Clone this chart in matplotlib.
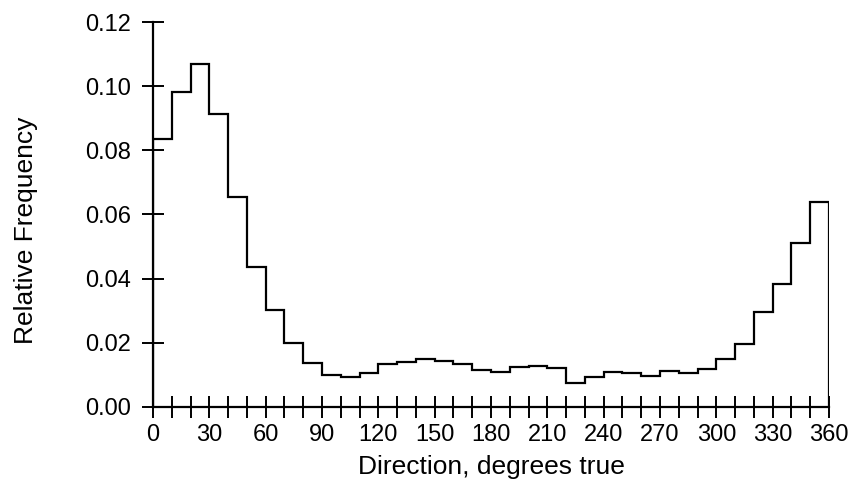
import numpy as np
import matplotlib.pyplot as plt

plt.rcParams['font.family'] = ['Liberation Sans', 'DejaVu Sans']

# 10-degree direction bins, 0..360
bin_edges = list(range(0, 370, 10))
rel_freq = [0.0835, 0.0983, 0.1069, 0.0913, 0.0655, 0.0435, 0.0302, 0.0200, 0.0136,
            0.0100, 0.0093, 0.0105, 0.0133, 0.0139, 0.0149, 0.0143, 0.0133, 0.0115,
            0.0108, 0.0124, 0.0128, 0.0121, 0.0076, 0.0094, 0.0109, 0.0107, 0.0098,
            0.0112, 0.0106, 0.0117, 0.0149, 0.0196, 0.0297, 0.0383, 0.0512, 0.0638]

x_labels = list(range(0, 390, 30))
y_labels = [0.00, 0.02, 0.04, 0.06, 0.08, 0.10, 0.12]

fig = plt.figure(figsize=(8.52, 4.87), dpi=100)
ax = fig.add_axes([0.1796, 0.1643, 0.7934, 0.7905])

ax.stairs(rel_freq, bin_edges, color='black', linewidth=1.6, baseline=0)

ax.set_xlim(0, 360)
ax.set_ylim(0, 0.12)
ax.set_xticks(x_labels)
ax.set_xticks(bin_edges, minor=True)
ax.set_yticks(y_labels)
ax.set_yticklabels([f'{v:.2f}' for v in y_labels])

for s in ['top', 'right']:
    ax.spines[s].set_visible(False)
for s in ['left', 'bottom']:
    ax.spines[s].set_linewidth(1.6)

ax.tick_params(axis='both', which='both', direction='inout', width=1.4, labelsize=17)
ax.tick_params(axis='x', which='both', length=16, pad=4)
ax.tick_params(axis='y', which='major', length=16, pad=8)

ax.set_xlabel('Direction, degrees true', fontsize=19)
ax.set_ylabel('Relative Frequency', fontsize=19)
ax.xaxis.set_label_coords(0.5, -0.125)
ax.yaxis.set_label_coords(-0.17, 0.46)

fig.savefig('out.png', dpi=100)
